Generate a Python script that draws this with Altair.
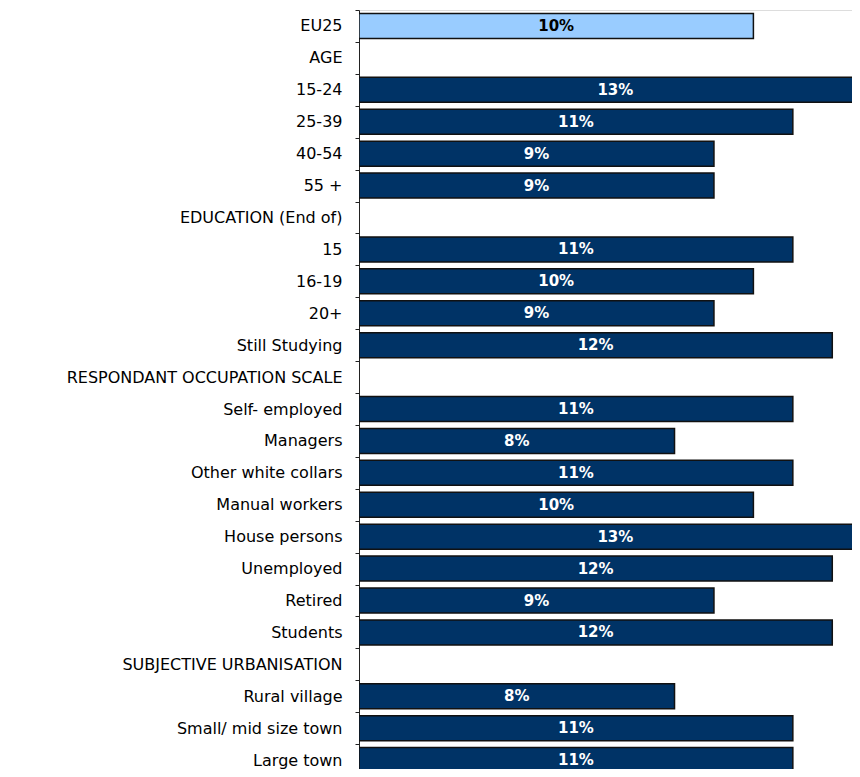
import altair as alt
import pandas as pd

categories = [
    "EU25", "AGE", "15-24", "25-39", "40-54", "55 +",
    "EDUCATION (End of)", "15", "16-19", "20+", "Still Studying",
    "RESPONDANT OCCUPATION SCALE", "Self- employed", "Managers",
    "Other white collars", "Manual workers", "House persons", "Unemployed",
    "Retired", "Students", "SUBJECTIVE URBANISATION", "Rural village",
    "Small/ mid size town", "Large town",
]
values = [
    10, None, 13, 11, 9, 9,
    None, 11, 10, 9, 12,
    None, 11, 8, 11, 10, 13, 12,
    9, 12, None, 8, 11, 11,
]
highlight = ["EU25"]

rows = []
for c, v in zip(categories, values):
    if v is None:
        continue
    rows.append({
        "cat": c,
        "value": v,
        "half": v / 2,
        "label": f"{v}%",
        "kind": "total" if c in highlight else "group",
    })
df = pd.DataFrame(rows)

STEP = 31.92
PI = 0.216
yscale = alt.Scale(domain=categories, range=[0, STEP * 24],
                   paddingInner=PI, paddingOuter=PI / 2)
xscale = alt.Scale(domain=[0, 12.5], nice=False, zero=True)

base = alt.Chart(df)

bars = base.mark_bar(stroke="#111111", strokeWidth=1.5, clip=True).encode(
    y=alt.Y("cat:N", scale=yscale, sort=categories, title=None,
            axis=alt.Axis(domain=True, domainColor="#222222", domainWidth=1,
                          ticks=True, tickColor="#222222", tickSize=4,
                          tickOffset=-STEP / 2, labelOffset=STEP / 2,
                          labelPadding=13, labelFontSize=16,
                          labelFont="DejaVu Sans", labelColor="#000000",
                          labelLimit=400, labelAlign="right")),
    x=alt.X("value:Q", scale=xscale, axis=None),
    color=alt.Color("kind:N",
                    scale=alt.Scale(domain=["total", "group"],
                                    range=["#99CCFF", "#003366"]),
                    legend=None),
)

texts = base.mark_text(fontSize=15, fontWeight="bold", font="DejaVu Sans",
                       align="center", baseline="middle").encode(
    y=alt.Y("cat:N", scale=yscale, sort=categories),
    x=alt.X("half:Q", scale=xscale),
    text="label:N",
    color=alt.Color("kind:N",
                    scale=alt.Scale(domain=["total", "group"],
                                    range=["#000000", "#FFFFFF"]),
                    legend=None),
)

chart = alt.layer(bars, texts).resolve_scale(color="independent").properties(
    width=493, height=759,
    autosize=alt.AutoSizeParams(type="none"),
    padding={"left": 351, "top": 2, "right": 0, "bottom": 0},
).configure_view(stroke=None).configure(background="white")

chart.save("out.html", embed_options={"renderer": "svg", "actions": False})
